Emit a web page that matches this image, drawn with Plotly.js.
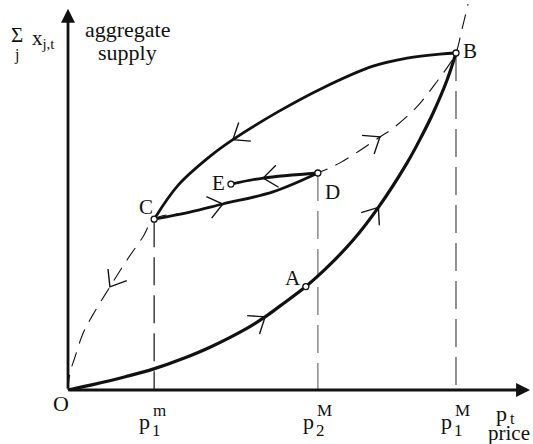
<!DOCTYPE html>
<html><head><meta charset="utf-8">
<script src="https://cdn.plot.ly/plotly-3.0.1.min.js"></script>
<style>html,body{margin:0;padding:0;background:#fff}#chart{width:533px;height:444px}</style>
</head><body><div id="chart"></div>
<script>
// Price axis: O = 0, p1M = 10 ; aggregate supply axis: level at B = 10
const tickValues = [2.22, 6.44, 10];
const tickBase = ['p', 'p', 'p'];
const tickSub = ['1', '2', '1'];
const tickSup = ['m', 'M', 'M'];
const tickTopY = [5.07, 6.44, 10];       // vertical guides reach C, D, B
const tickGuideColor = ['#222', '#777', '#555'];

const pointNames = ['A', 'B', 'C', 'D', 'E'];
const pointX = [6.13, 10, 2.22, 6.44, 4.20];
const pointY = [3.07, 10, 5.07, 6.44, 6.11];
const labelShift = [[-13, 9], [14, 2], [-8, 12], [15, -19], [-12, 1]];

// O -> A -> B
const lowerX = [0, 0.64, 1.5, 2.19, 3.0, 3.66, 4.61, 5.08, 5.46, 6.13, 6.75, 7.35, 8.0, 8.74, 9.1, 9.41, 9.77, 10];
const lowerY = [0, 0.16, 0.40, 0.62, 0.95, 1.27, 1.83, 2.17, 2.49, 3.07, 3.72, 4.45, 5.42, 6.74, 7.50, 8.22, 9.2, 10];
// C -> B (upper branch)
const upperX = [2.22, 2.84, 3.70, 4.25, 5.42, 6.54, 7.86, 8.74, 9.59, 10];
const upperY = [5.07, 6.08, 6.97, 7.43, 8.26, 8.95, 9.61, 9.85, 9.97, 10];
// C -> D
const cdX = [2.22, 3.14, 3.99, 5.28, 6.44];
const cdY = [5.07, 5.28, 5.52, 5.88, 6.44];
// D -> E
const deX = [6.44, 5.03, 4.20];
const deY = [6.44, 6.29, 6.11];
// dashed curve O -> C -> D -> B -> beyond
const dashX = [0, 0.05, 0.18, 0.39, 0.64, 1.08, 1.52, 1.93, 2.22, 3.14, 3.99, 5.28, 6.44, 7.01, 8.04, 8.38, 8.99, 9.54, 9.85, 10, 10.15, 10.31];
const dashY = [0, 0.50, 0.98, 1.69, 2.23, 3.06, 3.86, 4.54, 5.07, 5.28, 5.52, 5.88, 6.44, 6.74, 7.51, 7.77, 8.40, 9.20, 9.70, 10, 10.68, 11.45];

const axisTipX = 11.91;
const axisTipY = 11.31;

const W = 533, H = 444;
const XR = [-1.753, 11.985], YR = [-1.602, 11.573];
const sx = W / (XR[1] - XR[0]), sy = H / (YR[1] - YR[0]);

const ink = '#111';
const traces = [];
traces.push({x: dashX, y: dashY, mode: 'lines', line: {color: ink, width: 1.1, dash: '15px,9px', shape: 'spline', smoothing: 1}, hoverinfo: 'skip'});
tickValues.forEach((t, i) => {
  traces.push({x: [t, t], y: [tickTopY[i], 0], mode: 'lines', line: {color: tickGuideColor[i], width: 1.3, dash: '28px,10px'}, hoverinfo: 'skip'});
});
[[lowerX, lowerY, 3.2], [upperX, upperY, 2.8], [cdX, cdY, 2.8], [deX, deY, 2.8]].forEach(c => {
  traces.push({x: c[0], y: c[1], mode: 'lines', line: {color: ink, width: c[2], shape: 'spline', smoothing: 1}, hoverinfo: 'skip'});
});

// open chevrons showing the direction of motion, placed at a curve vertex
function chevron(xs, ys, i, dir) {
  const n = xs.length;
  const a = Math.max(i - 1, 0), b = Math.min(i + 1, n - 1);
  let dx = (xs[b] - xs[a]) * sx * dir, dy = (ys[b] - ys[a]) * sy * dir;
  const len = Math.hypot(dx, dy); dx /= len; dy /= len;
  const L = 18, th = 38 * Math.PI / 180;
  const rx = -dx, ry = -dy;
  const arm = s => {
    const c = Math.cos(s * th), si = Math.sin(s * th);
    return [xs[i] + L * (rx * c - ry * si) / sx, ys[i] + L * (rx * si + ry * c) / sy];
  };
  const p1 = arm(1), p2 = arm(-1);
  traces.push({x: [p1[0], xs[i], p2[0]], y: [p1[1], ys[i], p2[1]], mode: 'lines', line: {color: ink, width: 1.4}, hoverinfo: 'skip'});
}
chevron(lowerX, lowerY, 7, 1);
chevron(lowerX, lowerY, 12, 1);
chevron(upperX, upperY, 3, -1);
chevron(cdX, cdY, 2, 1);
chevron(deX, deY, 1, 1);
chevron(dashX, dashY, 5, -1);
chevron(dashX, dashY, 14, 1);

traces.push({x: pointX, y: pointY, mode: 'markers', marker: {symbol: 'circle', size: 6, color: '#fff', line: {color: ink, width: 1.3}}, hoverinfo: 'skip'});

const font = 'Liberation Serif';
const ann = [];
// axes with arrow heads
ann.push({x: axisTipX, y: 0, ax: 0, ay: 0, xref: 'x', yref: 'y', axref: 'x', ayref: 'y', text: '', showarrow: true, arrowhead: 2, arrowsize: 1, arrowwidth: 2.8, arrowcolor: ink});
ann.push({x: 0, y: axisTipY, ax: 0, ay: 0, xref: 'x', yref: 'y', axref: 'x', ayref: 'y', text: '', showarrow: true, arrowhead: 2, arrowsize: 1, arrowwidth: 2.8, arrowcolor: ink});

function label(x, y, text, size, xs, ys, xa) {
  ann.push({x: x, y: y, xref: 'x', yref: 'y', text: text, showarrow: false, xanchor: xa || 'center', yanchor: 'middle',
    xshift: xs, yshift: ys, font: {family: font, size: size, color: ink}});
}
pointNames.forEach((n, i) => label(pointX[i], pointY[i], n, 21, labelShift[i][0], labelShift[i][1]));
tickValues.forEach((t, i) => {
  label(t, 0, tickBase[i], 22, -2, -31, 'right');
  label(t, 0, tickSub[i], 17, -4, -40, 'left');
  label(t, 0, tickSup[i], 17, -3, -20, 'left');
});
label(0, 0, 'O', 22, -7, -13);
label(axisTipX, 0, 'p', 22, -29, -23);
label(axisTipX, 0, 't', 16, -18, -28);
label(axisTipX, 0, 'price', 21, -21, -43);
label(0, axisTipY, 'aggregate', 22, 60, -21);
label(0, axisTipY, 'supply', 22, 59, -44);
label(0, axisTipY, '\u03A3', 21, -51, -26);
label(0, axisTipY, 'j', 16, -52, -46);
label(0, axisTipY, 'x<sub>j,t</sub>', 21, -25, -30);

const layout = {
  width: W, height: H, margin: {l: 0, r: 0, t: 0, b: 0},
  paper_bgcolor: '#fff', plot_bgcolor: '#fff', showlegend: false,
  xaxis: {range: XR, visible: false, fixedrange: true},
  yaxis: {range: YR, visible: false, fixedrange: true},
  font: {family: font, color: ink, size: 22},
  annotations: ann
};
Plotly.newPlot('chart', traces, layout, {displayModeBar: false, staticPlot: true});
</script>
</body></html>
